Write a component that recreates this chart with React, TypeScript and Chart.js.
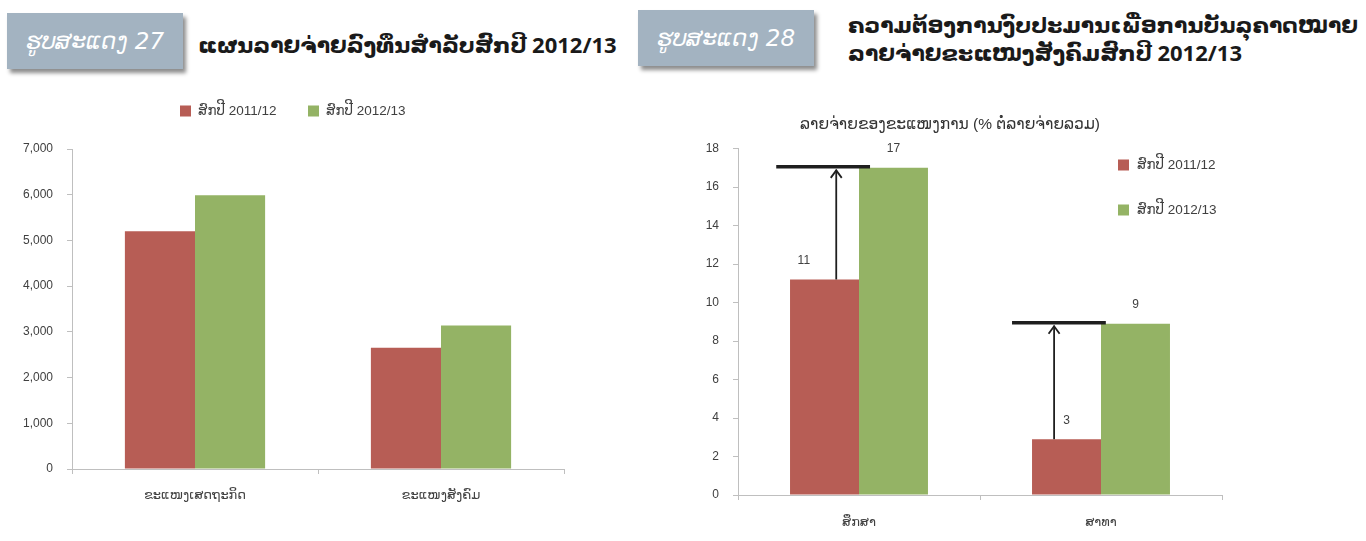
import React, { useEffect, useRef } from 'react';
import { Chart, registerables } from 'chart.js';

Chart.register(...registerables);

// ---------- data ----------
const seriesLabels = ['ສົກປີ 2011/12', 'ສົກປີ 2012/13'];
const seriesColors = ['#B75D55', '#94B365'];

const fig27Categories = ['ຂະແໜງເສດຖະກິດ', 'ຂະແໜງສັງຄົມ'];
const fig27Values2011 = [5200, 2650];
const fig27Values2012 = [5990, 3140];
const fig27AxisMax = 7000;
const fig27TickStep = 1000;

const fig28Categories = ['ສຶກສາ', 'ສາທາ'];
const fig28Values2011 = [11.2, 2.9];
const fig28Values2012 = [17.0, 8.9];
const fig28AxisMax = 18;
const fig28TickStep = 2;
const fig28AxisTitle = 'ລາຍຈ່າຍຂອງຂະແໜງການ (% ຕໍ່ລາຍຈ່າຍລວມ)';

const heading27Tag = 'ຮູບສະແດງ 27';
const heading27Text = 'ແຜນລາຍຈ່າຍລົງທຶນສຳລັບສົກປີ 2012/13';
const heading28Tag = 'ຮູບສະແດງ 28';
const heading28Lines = ['ຄວາມຕ້ອງການງົບປະມານເພື່ອການບັນລຸຄາດໝາຍ', 'ລາຍຈ່າຍຂະແໜງສັງຄົມສົກປີ 2012/13'];

// ---------- styles ----------
const FONT = "'Liberation Sans', 'DejaVu Sans', sans-serif";
const AXIS_GRAY = '#bfbfbf';
const TEXT_GRAY = '#404040';

// ---------- plugins ----------
const squareLegend = {
  id: 'squareLegend',
  afterDraw(chart: any, _args: any, opts: any) {
    const ctx = chart.ctx;
    ctx.save();
    ctx.font = opts.font;
    ctx.textBaseline = 'middle';
    ctx.textAlign = 'left';
    chart.data.datasets.forEach((ds: any, i: number) => {
      const x = opts.x + (opts.dx || 0) * i;
      const y = opts.y + (opts.dy || 0) * i;
      ctx.fillStyle = ds.backgroundColor;
      ctx.fillRect(x, y - opts.box / 2, opts.box, opts.box);
      ctx.fillStyle = opts.color;
      ctx.fillText(ds.label, x + opts.box + opts.gap, y);
    });
    ctx.restore();
  },
};

const valueLabels = {
  id: 'valueLabels',
  afterDatasetsDraw(chart: any, _args: any, opts: any) {
    if (!opts || !opts.enabled) return;
    const ctx = chart.ctx;
    ctx.save();
    ctx.font = opts.font;
    ctx.fillStyle = opts.color;
    ctx.textAlign = 'center';
    ctx.textBaseline = 'middle';
    chart.data.datasets.forEach((ds: any, di: number) => {
      const meta = chart.getDatasetMeta(di);
      meta.data.forEach((bar: any, i: number) => {
        const shift = (opts.shifts && opts.shifts[di] && opts.shifts[di][i]) || 0;
        ctx.fillText(String(Math.round(ds.data[i])), bar.x + shift * bar.width, bar.y - opts.offset);
      });
    });
    ctx.restore();
  },
};

const gapArrows = {
  id: 'gapArrows',
  afterDatasetsDraw(chart: any, _args: any, opts: any) {
    if (!opts || !opts.items) return;
    const ctx = chart.ctx;
    const yScale = chart.scales.y;
    const base = chart.getDatasetMeta(0);
    ctx.save();
    ctx.strokeStyle = '#1f1f1f';
    ctx.lineCap = 'butt';
    opts.items.forEach((it: any) => {
      const bar = base.data[it.index];
      const w = bar.width;
      const fromV = chart.data.datasets[0].data[it.index];
      const toV = chart.data.datasets[1].data[it.index];
      const yTo = yScale.getPixelForValue(toV) - 1;
      const yFrom = yScale.getPixelForValue(fromV);
      ctx.lineWidth = 3.5;
      ctx.beginPath();
      ctx.moveTo(bar.x + it.lineFrom * w, yTo);
      ctx.lineTo(bar.x + it.lineTo * w, yTo);
      ctx.stroke();
      const ax = bar.x + it.arrow * w;
      ctx.lineWidth = 1.8;
      ctx.beginPath();
      ctx.moveTo(ax, yFrom);
      ctx.lineTo(ax, yTo + 3);
      ctx.stroke();
      ctx.beginPath();
      ctx.moveTo(ax - 5.5, yTo + 11);
      ctx.lineTo(ax, yTo + 3.5);
      ctx.lineTo(ax + 5.5, yTo + 11);
      ctx.stroke();
    });
    ctx.restore();
  },
};

function makeDatasets(a: number[], b: number[], catPct: number) {
  return [a, b].map((vals, i) => ({
    label: seriesLabels[i],
    data: vals,
    backgroundColor: seriesColors[i],
    borderWidth: 0,
    categoryPercentage: catPct,
    barPercentage: 1.0,
  }));
}

function axes(max: number, step: number, yWidth: number, xPad: number, fmt: (v: number) => string) {
  const tickFont = { family: FONT, size: 12 };
  return {
    x: {
      grid: { display: true, drawOnChartArea: false, tickLength: 5, color: AXIS_GRAY, offset: true },
      border: { display: true, color: AXIS_GRAY, width: 1 },
      ticks: { padding: xPad, color: TEXT_GRAY, font: { family: FONT, size: 13 }, maxRotation: 0 },
      afterFit: (s: any) => { s.height = 40; },
    },
    y: {
      min: 0,
      max,
      grid: { display: true, drawOnChartArea: false, tickLength: 5, color: AXIS_GRAY },
      border: { display: true, color: AXIS_GRAY, width: 1 },
      ticks: { stepSize: step, padding: 14, color: TEXT_GRAY, font: tickFont, callback: (v: any) => fmt(Number(v)) },
      afterFit: (s: any) => { s.width = yWidth; },
    },
  };
}

function Fig27Chart() {
  const ref = useRef<HTMLCanvasElement>(null);
  useEffect(() => {
    const chart = new Chart(ref.current as HTMLCanvasElement, {
      type: 'bar',
      data: { labels: fig27Categories, datasets: makeDatasets(fig27Values2011, fig27Values2012, 0.57) as any },
      options: {
        animation: false,
        responsive: false,
        layout: { padding: { left: 6, right: 36, top: 59, bottom: 32 } },
        scales: axes(fig27AxisMax, fig27TickStep, 66, 14, (v) => v.toLocaleString('en-US')) as any,
        plugins: {
          legend: { display: false },
          tooltip: { enabled: false },
          squareLegend: { x: 180, y: 21, dx: 128, dy: 0, box: 11, gap: 7, font: `13.5px ${FONT}`, color: TEXT_GRAY },
        } as any,
      },
      plugins: [squareLegend],
    });
    return () => chart.destroy();
  }, []);
  return <canvas ref={ref} width={600} height={451} style={{ position: 'absolute', left: 0, top: 90 }} />;
}

function Fig28Chart() {
  const ref = useRef<HTMLCanvasElement>(null);
  useEffect(() => {
    const chart = new Chart(ref.current as HTMLCanvasElement, {
      type: 'bar',
      data: { labels: fig28Categories, datasets: makeDatasets(fig28Values2011, fig28Values2012, 0.57) as any },
      options: {
        animation: false,
        responsive: false,
        layout: { padding: { left: 0, right: 144, top: 0, bottom: 6 } },
        scales: axes(fig28AxisMax, fig28TickStep, 60, 15, (v) => String(v)) as any,
        plugins: {
          legend: { display: false },
          tooltip: { enabled: false },
          title: {
            display: true,
            text: fig28AxisTitle,
            color: '#333333',
            font: { family: FONT, size: 15.5, weight: 'normal' },
            padding: { top: 15, bottom: 15 },
          },
          squareLegend: { x: 440, y: 65, dx: 0, dy: 45, box: 11, gap: 8, font: `13.5px ${FONT}`, color: TEXT_GRAY },
          valueLabels: { enabled: true, offset: 19, font: `12px ${FONT}`, color: TEXT_GRAY, shifts: [[-0.3, 0], [0, 0]] },
          gapArrows: {
            items: [
              { index: 0, lineFrom: -0.7, lineTo: 0.66, arrow: 0.17 },
              { index: 1, lineFrom: -0.79, lineTo: 0.57, arrow: -0.18 },
            ],
          },
        } as any,
      },
      plugins: [squareLegend, valueLabels, gapArrows],
    });
    return () => chart.destroy();
  }, []);
  return <canvas ref={ref} width={688} height={441} style={{ position: 'absolute', left: 678, top: 100 }} />;
}

const tagStyle = (left: number, top: number): React.CSSProperties => ({
  position: 'absolute',
  left,
  top,
  width: 176,
  height: 56,
  background: '#A3B3C1',
  color: '#ffffff',
  fontFamily: "'DejaVu Sans', sans-serif",
  fontStyle: 'italic',
  fontWeight: 300,
  fontSize: 23,
  display: 'flex',
  alignItems: 'center',
  justifyContent: 'center',
  boxShadow: '3px 4px 4px rgba(0,0,0,0.45)',
  whiteSpace: 'nowrap',
});

const headStyle: React.CSSProperties = {
  position: 'absolute',
  fontFamily: "'Open Sans', 'DejaVu Sans', sans-serif",
  fontWeight: 700,
  fontSize: 22,
  color: '#1a1a1a',
  whiteSpace: 'nowrap',
  lineHeight: '28px',
};

export default function App() {
  return (
    <div style={{ position: 'absolute', left: 0, top: 0, width: 1366, height: 541, background: '#ffffff', overflow: 'hidden' }}>
      <div style={tagStyle(7, 13)}>{heading27Tag}</div>
      <div style={{ ...headStyle, left: 198, top: 30 }}>{heading27Text}</div>
      <div style={tagStyle(638, 10)}>{heading28Tag}</div>
      <div style={{ ...headStyle, left: 848, top: 10 }}>
        {heading28Lines.map((l) => (
          <div key={l}>{l}</div>
        ))}
      </div>
      <Fig27Chart />
      <Fig28Chart />
    </div>
  );
}
